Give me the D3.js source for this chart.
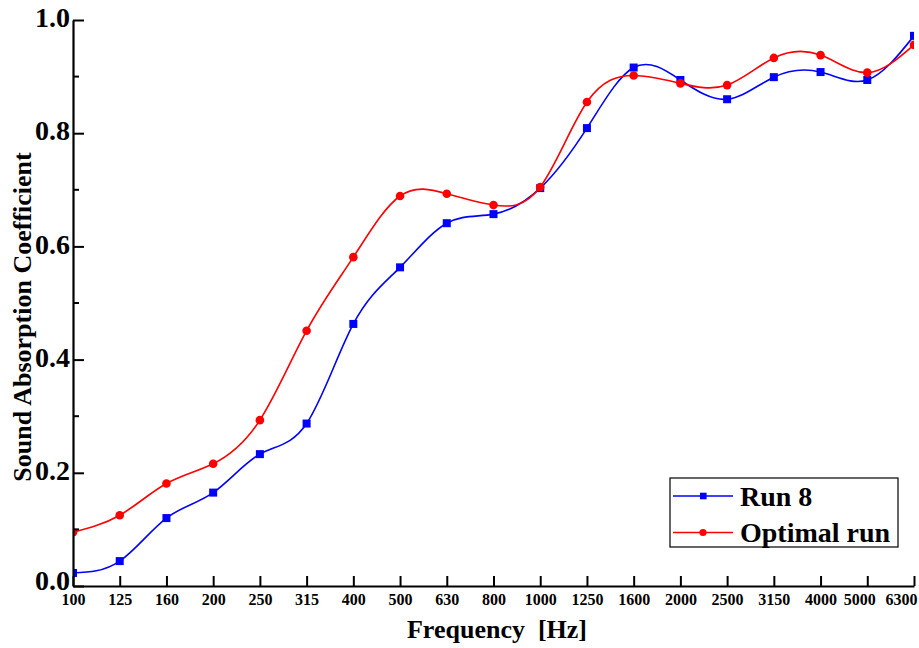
<!DOCTYPE html>
<html>
<head>
<meta charset="utf-8">
<script src="https://cdn.jsdelivr.net/npm/d3@7"></script>
<style>
  body { margin: 0; background: #fff; }
  text { font-family: "Liberation Serif", "Times New Roman", serif; font-weight: bold; fill: #000; }
</style>
</head>
<body>
<div id="chart"></div>
<script>
// data
var freqs = ["100", "125", "160", "200", "250", "315", "400", "500", "630", "800",
  "1000", "1250", "1600", "2000", "2500", "3150", "4000", "5000", "6300"];
var run8 = [0.023, 0.044, 0.120, 0.165, 0.233, 0.287, 0.463, 0.563, 0.641, 0.657,
  0.703, 0.809, 0.916, 0.894, 0.860, 0.899, 0.908, 0.894, 0.972];
var optimal = [0.095, 0.125, 0.181, 0.216, 0.293, 0.451, 0.581, 0.689, 0.693, 0.673,
  0.705, 0.855, 0.902, 0.888, 0.885, 0.933, 0.938, 0.907, 0.956];
var yTicks = [0, 0.2, 0.4, 0.6, 0.8, 1.0];
var yMinor = [0.1, 0.3, 0.5, 0.7, 0.9];

var svgWidth = 919;
var svgHeight = 648;
var margin = { top: 20, right: 5, bottom: 62, left: 73 };
var width = svgWidth - margin.left - margin.right;
var height = svgHeight - margin.top - margin.bottom;

var svg = d3.select("#chart")
  .append("svg")
  .attr("width", svgWidth)
  .attr("height", svgHeight);

var chartGroup = svg.append("g")
  .attr("transform", `translate(${margin.left}, ${margin.top})`);

var xScale = d3.scalePoint().domain(freqs).range([0, width]);
var yScale = d3.scaleLinear().domain([0, 1]).range([height, 0]);

chartGroup.append("clipPath").attr("id", "plotclip")
  .append("rect").attr("x", 0).attr("y", -10).attr("width", width).attr("height", height + 10);

var series = [
  { name: "Run 8", values: run8, color: "#0000ff", shape: "square" },
  { name: "Optimal run", values: optimal, color: "#ff0000", shape: "circle" }
];

var line = d3.line()
  .x((d, i) => xScale(freqs[i]))
  .y(d => yScale(d))
  .curve(d3.curveNatural);

var plot = chartGroup.append("g").attr("clip-path", "url(#plotclip)");

series.forEach(function(s) {
  plot.append("path")
    .datum(s.values)
    .attr("d", line)
    .attr("fill", "none")
    .attr("stroke", s.color)
    .attr("stroke-width", 1.6);

  if (s.shape === "square") {
    plot.selectAll(null).data(s.values).enter()
      .append("rect")
      .attr("x", (d, i) => xScale(freqs[i]) - 4)
      .attr("y", d => yScale(d) - 4)
      .attr("width", 8).attr("height", 8)
      .attr("fill", s.color);
  } else {
    plot.selectAll(null).data(s.values).enter()
      .append("circle")
      .attr("cx", (d, i) => xScale(freqs[i]))
      .attr("cy", d => yScale(d))
      .attr("r", 4.3)
      .attr("fill", s.color);
  }
});

// axes
var bottomAxis = d3.axisBottom(xScale).tickSizeInner(-10).tickSizeOuter(0).tickPadding(8);
var leftAxis = d3.axisLeft(yScale).tickValues(yTicks).tickFormat(d3.format(".1f"))
  .tickSizeInner(-11).tickSizeOuter(0).tickPadding(3);

var xg = chartGroup.append("g")
  .attr("transform", `translate(0, ${height})`)
  .call(bottomAxis);
xg.select(".domain").attr("stroke", "#000").attr("stroke-width", 2.2);
xg.selectAll(".tick line").attr("stroke", "#000").attr("stroke-width", 2);
xg.selectAll(".tick text").attr("font-size", 16).attr("dy", "0.71em")
  .style("font-family", "Liberation Serif").style("font-weight", "bold");
// the last two labels are nudged left, as in the original
xg.selectAll(".tick text").filter(d => d === "5000").attr("x", -8);
xg.selectAll(".tick text").filter(d => d === "6300").attr("x", -13);

var yg = chartGroup.append("g").call(leftAxis);
yg.select(".domain").attr("stroke", "#000").attr("stroke-width", 2.2);
yg.selectAll(".tick line").attr("stroke", "#000").attr("stroke-width", 2);
yg.selectAll(".tick text").attr("font-size", 28).attr("dy", "0.24em")
  .style("font-family", "Liberation Serif").style("font-weight", "bold");
yg.selectAll(".tick text").filter(d => d === 0).attr("y", -3);

chartGroup.append("g").selectAll("line").data(yMinor).enter()
  .append("line")
  .attr("x1", 0).attr("x2", 6)
  .attr("y1", d => yScale(d)).attr("y2", d => yScale(d))
  .attr("stroke", "#000").attr("stroke-width", 2);

// axis titles
svg.append("text")
  .attr("transform", "translate(31, 317) rotate(-90)")
  .attr("text-anchor", "middle")
  .attr("font-size", 26)
  .text("Sound Absorption Coefficient");

svg.append("text")
  .attr("x", 497)
  .attr("y", 638)
  .attr("text-anchor", "middle")
  .attr("font-size", 26)
  .style("white-space", "pre")
  .text("Frequency  [Hz]");

// legend
var legend = svg.append("g");
legend.append("rect")
  .attr("x", 670).attr("y", 478).attr("width", 228).attr("height", 69)
  .attr("fill", "#fff").attr("stroke", "#000").attr("stroke-width", 1.2);

series.forEach(function(s, i) {
  var ly = 496 + i * 36.5;
  legend.append("line")
    .attr("x1", 673).attr("x2", 733).attr("y1", ly).attr("y2", ly)
    .attr("stroke", s.color).attr("stroke-width", 1.6);
  if (s.shape === "square") {
    legend.append("rect").attr("x", 700).attr("y", ly - 3.3).attr("width", 6.6).attr("height", 6.6)
      .attr("fill", s.color);
  } else {
    legend.append("circle").attr("cx", 703).attr("cy", ly).attr("r", 3.6).attr("fill", s.color);
  }
  legend.append("text")
    .attr("x", 740).attr("y", ly + 9.5)
    .attr("font-size", 28)
    .text(s.name);
});
</script>
</body>
</html>
